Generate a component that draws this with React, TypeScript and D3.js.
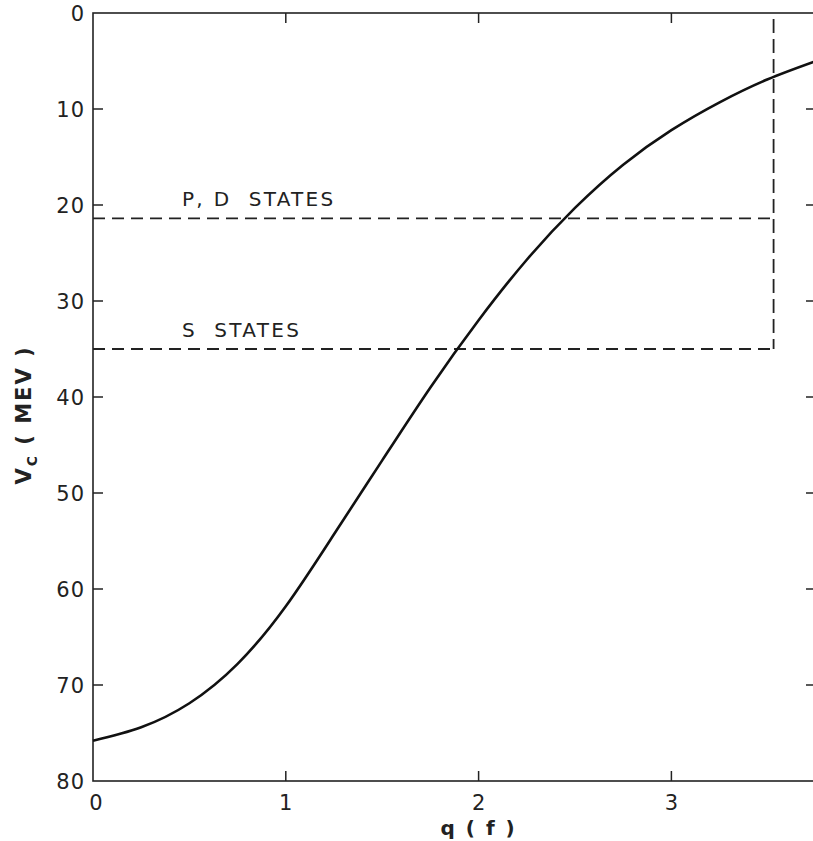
import React from "react";
import { scaleLinear, line, curveNatural } from "d3";

// curve: q in fermi, Vc in MeV
const qValues = [0, 0.25, 0.5, 0.75, 1.0, 1.25, 1.5, 1.75, 2.0, 2.25, 2.5, 2.75, 3.0, 3.25, 3.5, 3.75];
const vcValues = [75.8, 74.4, 71.9, 67.8, 61.8, 54.3, 46.6, 39.0, 32.0, 25.7, 20.3, 15.8, 12.2, 9.3, 6.9, 5.0];

const xTicks = [0, 1, 2, 3];
const yTicks = [0, 10, 20, 30, 40, 50, 60, 70, 80];
const innerYTicks = [10, 20, 30, 40, 50, 60, 70];

const levelLabels = ["P, D  STATES", "S  STATES"];
const levelValues = [21.4, 35.0];
const cutoffQ = 3.53;

const W = 813;
const H = 841;
const font = "'DejaVu Sans', sans-serif";

export default function App() {
  const x = scaleLinear().domain([0, 3.75]).range([93, 816]);
  const y = scaleLinear().domain([0, 80]).range([13, 781]);

  const pts: [number, number][] = qValues.map((q, i) => [q, vcValues[i]]);
  const curve = line<[number, number]>()
    .x((d) => x(d[0]))
    .y((d) => y(d[1]))
    .curve(curveNatural);

  const left = x(0);
  const right = x(3.75);
  const top = y(0);
  const bottom = y(80);
  const tickLen = 10;

  return (
    <svg
      width={W}
      height={H}
      style={{ position: "absolute", left: 0, top: 0, background: "#fff" }}
      fontFamily={font}
    >
      {/* frame */}
      <rect x={left} y={top} width={right - left} height={bottom - top} fill="none" stroke="#222" strokeWidth={1.6} />

      {/* x ticks, bottom and top, inward */}
      {xTicks.slice(1).map((t) => (
        <g key={"xt" + t}>
          <line x1={x(t)} x2={x(t)} y1={bottom} y2={bottom - tickLen} stroke="#222" strokeWidth={1.5} />
          <line x1={x(t)} x2={x(t)} y1={top} y2={top + tickLen} stroke="#222" strokeWidth={1.5} />
        </g>
      ))}
      {xTicks.map((t) => (
        <text key={"xl" + t} x={x(t) + (t === 0 ? 3 : 0)} y={bottom + 29} fontSize={21} textAnchor="middle" fill="#222">
          {t}
        </text>
      ))}

      {/* y ticks, left and right, inward */}
      {innerYTicks.map((t) => (
        <g key={"yt" + t}>
          <line x1={left} x2={left + tickLen} y1={y(t)} y2={y(t)} stroke="#222" strokeWidth={1.5} />
          <line x1={right} x2={right - tickLen} y1={y(t)} y2={y(t)} stroke="#222" strokeWidth={1.5} />
        </g>
      ))}
      {yTicks.map((t) => (
        <text key={"yl" + t} x={left - 8} y={y(t) + 8} fontSize={21} textAnchor="end" letterSpacing={1} fill="#222">
          {t}
        </text>
      ))}

      {/* axis titles */}
      <text x={x(2)} y={835} fontSize={20} fontWeight="bold" textAnchor="middle" fill="#222" letterSpacing={2}>
        q ( f )
      </text>
      <text transform={`translate(31, 415) rotate(-90)`} fontSize={21} fontWeight="bold" textAnchor="middle" fill="#222" letterSpacing={2}>
        V<tspan fontSize={14} dy={6}>C</tspan>
        <tspan dy={-6}>{"  ( MEV )"}</tspan>
      </text>

      {/* state levels */}
      {levelValues.map((v, i) => (
        <g key={"lv" + i}>
          <line x1={left} x2={x(cutoffQ)} y1={y(v)} y2={y(v)} stroke="#222" strokeWidth={1.8} strokeDasharray="12 7" />
          <text x={182} y={y(v) - 12} fontSize={20} letterSpacing={2.3} fill="#222" style={{ whiteSpace: "pre" }}>
            {levelLabels[i]}
          </text>
        </g>
      ))}
      <line x1={x(cutoffQ)} x2={x(cutoffQ)} y1={top + 6} y2={y(levelValues[1])} stroke="#222" strokeWidth={1.8} strokeDasharray="14 6" />

      {/* Vc curve */}
      <path d={curve(pts) || ""} fill="none" stroke="#111" strokeWidth={2.6} />
    </svg>
  );
}
